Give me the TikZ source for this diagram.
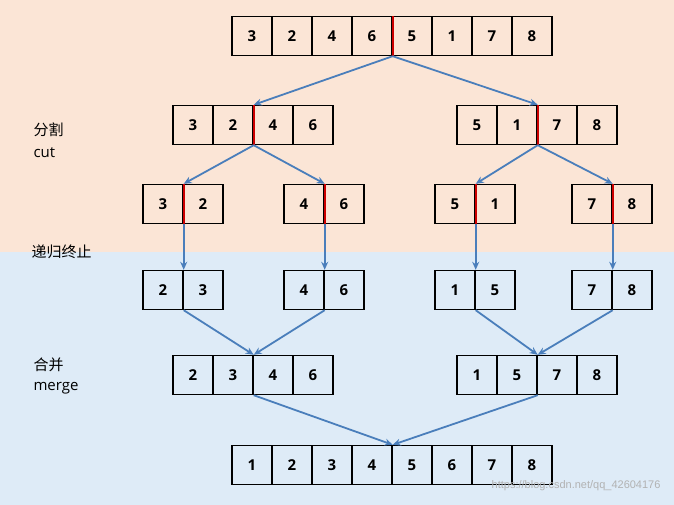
\documentclass[tikz,border=0pt]{standalone}
\usepackage{fontspec}
\setmainfont{Open Sans}
\newfontfamily\cjk{Noto Sans CJK SC}
\usetikzlibrary{arrows.meta,calc}
\definecolor{peach}{HTML}{FBE5D6}
\definecolor{lblue}{HTML}{DEEBF7}
\definecolor{arr}{HTML}{4A7EBB}
\tikzset{
 cell/.style={draw,line width=1.4pt,minimum width=40pt,minimum height=39pt,inner sep=0pt,font=\fontsize{15}{15}\selectfont\bfseries},
 conn/.style={arr,line width=1.8pt,-{Stealth[length=8pt,width=7pt]}},
 lab/.style={font=\fontsize{15}{18}\selectfont\cjk,anchor=west}
}
\newcommand\rowbox[5]{%
 \foreach \d [count=\i] in {#4}{\node[cell] (#1\i) at ({#2+40*\i-20},#3) {\d};}
 \foreach \d [count=\i] in {#4}{\ifnum\i=#5\relax
   \coordinate (#1t) at ($(#1\i.north east)$);
   \coordinate (#1b) at ($(#1\i.south east)$);
   \draw[red!80!black,line width=1.6pt] (#1\i.north east) -- (#1\i.south east);\fi}
}
\begin{document}
\begin{tikzpicture}[x=1pt,y=-1pt]
\useasboundingbox (0,0) rectangle (674,505);
\fill[peach] (0,0) rectangle (674,252);
\fill[lblue] (0,252) rectangle (674,505);
\rowbox{A}{232}{36}{3,2,4,6,5,1,7,8}{4}
\rowbox{B}{173}{125}{3,2,4,6}{2}
\rowbox{C}{457}{125}{5,1,7,8}{2}
\rowbox{D}{143}{204}{3,2}{1}
\rowbox{E}{284}{204}{4,6}{1}
\rowbox{F}{435}{204}{5,1}{1}
\rowbox{G}{572}{204}{7,8}{1}
\rowbox{H}{143}{290}{2,3}{0}
\rowbox{I}{284}{290}{4,6}{0}
\rowbox{J}{435}{290}{1,5}{0}
\rowbox{K}{572}{290}{7,8}{0}
\rowbox{L}{173}{375}{2,3,4,6}{0}
\rowbox{M}{457}{375}{1,5,7,8}{0}
\rowbox{N}{232}{465}{1,2,3,4,5,6,7,8}{0}
\draw[conn] (Ab) -- (Bt);
\draw[conn] (Ab) -- (Ct);
\draw[conn] (Bb) -- (Dt);
\draw[conn] (Bb) -- (Et);
\draw[conn] (Cb) -- (Ft);
\draw[conn] (Cb) -- (Gt);
\draw[conn] (Db) -- (H1.north east);
\draw[conn] (Eb) -- (I1.north east);
\draw[conn] (Fb) -- (J1.north east);
\draw[conn] (Gb) -- (K1.north east);
\draw[conn] (H1.south east) -- (L2.north east);
\draw[conn] (I1.south east) -- (L2.north east);
\draw[conn] (J1.south east) -- (M2.north east);
\draw[conn] (K1.south east) -- (M2.north east);
\draw[conn] (L2.south east) -- (N4.north east);
\draw[conn] (M2.south east) -- (N4.north east);
\node[lab] (l1) at (30,130) {分割};
\node[lab] (l2) at (30,153) {\fontspec{Open Sans}cut};
\node[lab] (l3) at (28,252) {递归终止};
\node[lab] (l4) at (30,365) {合并};
\node[lab] (l5) at (30,388) {\fontspec{Open Sans}merge};
\node[anchor=east,text=black!30,font=\fontsize{11}{11}\selectfont\fontspec{Liberation Sans}] (w) at (664,486) {https://blog.csdn.net/qq\_42604176};
\end{tikzpicture}
\end{document}
